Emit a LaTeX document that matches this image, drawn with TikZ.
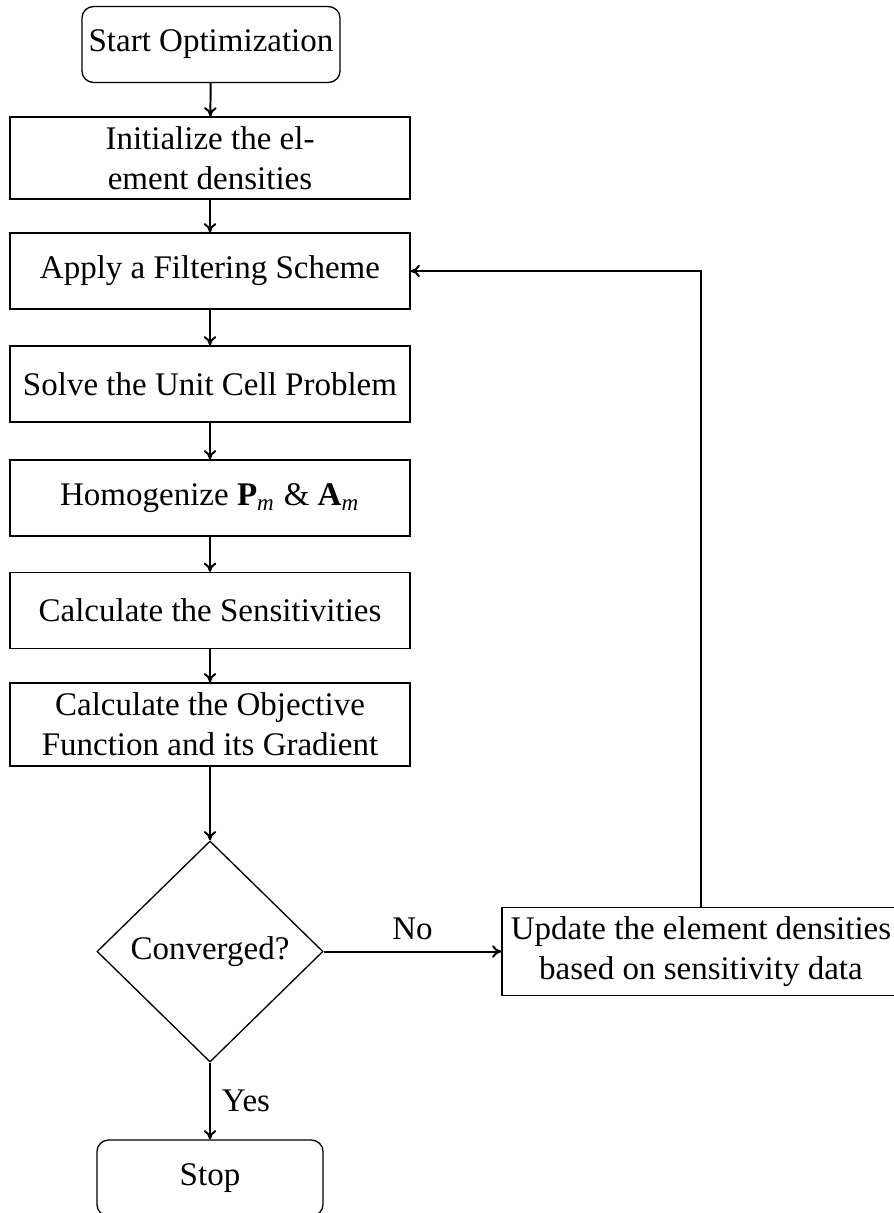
\documentclass[tikz,border=0pt]{standalone}
\usepackage{fontspec}
\setmainfont{Liberation Serif}
\usetikzlibrary{shapes.geometric,arrows.meta}

\tikzset{
  procbox/.style={draw, thin, rectangle, align=center, inner sep=2pt,
                  minimum width=121.2pt, minimum height=23pt},
  termbox/.style={draw, thin, rectangle, rounded corners=3.5pt, align=center,
                  inner sep=2pt, minimum height=23pt},
  decision/.style={draw, thin, diamond, align=center, inner sep=1pt,
                   minimum width=68.5pt, minimum height=67pt},
  flow/.style={semithick, -{To[length=2.8pt,width=3.8pt]}},
}

\begin{document}
\begin{tikzpicture}[x=0.303pt, y=-0.303pt]
  \useasboundingbox (0,0) rectangle (894,1213);

  % main column
  \node[termbox, minimum width=78.2pt] (start) at (211,44.5) {Start Optimization};
  \node[procbox, minimum height=24.8pt] (init) at (210,158) {Initialize the el-\\ement densities};
  \node[procbox] (filter) at (210,271) {Apply a Filtering Scheme};
  \node[procbox] (solve) at (210,384) {Solve the Unit Cell Problem};
  \node[procbox] (homog) at (210,498)
       {Homogenize \textbf{P}\textsubscript{\textit{m}} \& \textbf{A}\textsubscript{\textit{m}}};
  \node[procbox] (sens) at (210,610.5) {Calculate the Sensitivities};
  \node[procbox, minimum height=25.2pt] (obj) at (210,724.5) {Calculate the Objective\\Function and its Gradient};
  \node[decision] (conv) at (210,951.5) {Converged?};
  \node[termbox, minimum width=68.5pt] (stop) at (210,1178) {Stop};

  % update step on the right
  \node[procbox, minimum width=120.6pt, minimum height=26.7pt] (update) at (701,951.5)
       {Update the element densities\\based on sensitivity data};

  % connectors
  \draw[flow] (start) -- (init);
  \draw[flow] (init) -- (filter);
  \draw[flow] (filter) -- (solve);
  \draw[flow] (solve) -- (homog);
  \draw[flow] (homog) -- (sens);
  \draw[flow] (sens) -- (obj);
  \draw[flow] (obj) -- (conv);
  \draw[flow] (conv) -- node[right] {Yes} (stop);
  \draw[flow] (conv) -- node[above] {No} (update);
  \draw[flow] (update.north) |- (filter.east);
\end{tikzpicture}
\end{document}
